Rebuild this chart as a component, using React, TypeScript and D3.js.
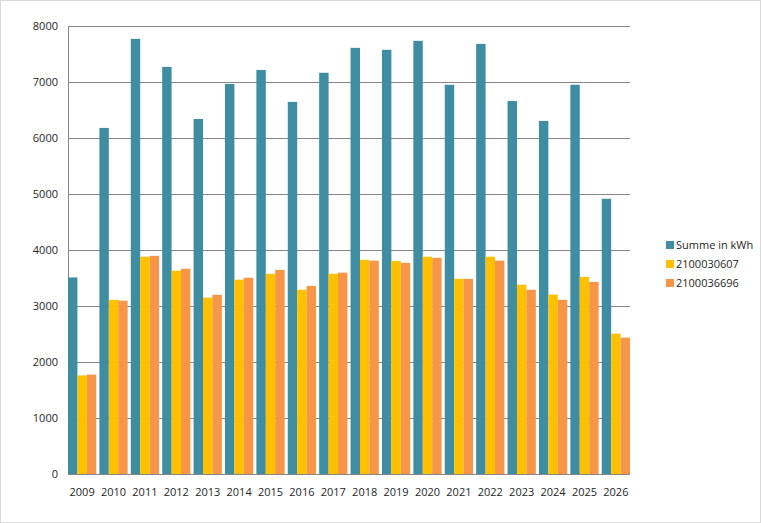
import React, { useEffect, useRef } from 'react';
import * as d3 from 'd3';

const years = ['2009', '2010', '2011', '2012', '2013', '2014', '2015', '2016', '2017', '2018', '2019', '2020', '2021', '2022', '2023', '2024', '2025', '2026'];
const summe = [3510, 6180, 7770, 7270, 6340, 6965, 7215, 6645, 7165, 7610, 7575, 7735, 6950, 7680, 6660, 6305, 6950, 4915];
const meterA = [1760, 3110, 3880, 3630, 3150, 3470, 3575, 3290, 3575, 3825, 3805, 3880, 3485, 3880, 3380, 3205, 3520, 2505];
const meterB = [1775, 3095, 3895, 3665, 3200, 3505, 3645, 3360, 3595, 3810, 3770, 3860, 3485, 3810, 3290, 3110, 3430, 2435];
const seriesNames = ['Summe in kWh', '2100030607', '2100036696'];
const colors = ['#3E8DA3', '#FFC000', '#F79646'];
const yTicks = [0, 1000, 2000, 3000, 4000, 5000, 6000, 7000, 8000];

const W = 761;
const H = 523;

const App: React.FC = () => {
    const svgRef = useRef<SVGSVGElement | null>(null);

    useEffect(() => {
        const svg = d3.select(svgRef.current);
        svg.selectAll('*').remove();

        const margin = { top: 26, left: 68, right: 131, bottom: 49 };
        const innerW = W - margin.left - margin.right;
        const innerH = H - margin.top - margin.bottom;
        const font = "'Segoe UI', 'Open Sans', sans-serif";

        svg.append('rect')
            .attr('x', 0.5).attr('y', 0.5)
            .attr('width', W - 1).attr('height', H - 1)
            .attr('fill', '#fff')
            .attr('stroke', '#D9D9D9');

        const x = d3.scaleBand().domain(years).range([0, innerW]).paddingInner(0.1).paddingOuter(0);
        const xSub = d3.scaleBand().domain(seriesNames).range([0, x.bandwidth()]);
        const y = d3.scaleLinear().domain([0, 8000]).range([innerH, 0]);

        const g = svg.append('g').attr('transform', `translate(${margin.left},${margin.top})`);

        // gridlines
        g.selectAll('line.grid')
            .data(yTicks)
            .enter().append('line')
            .attr('x1', 0).attr('x2', innerW)
            .attr('y1', (d) => Math.round(y(d)) + 0.5)
            .attr('y2', (d) => Math.round(y(d)) + 0.5)
            .attr('stroke', '#868686')
            .attr('stroke-width', 1);

        g.append('line')
            .attr('x1', 0.5).attr('x2', 0.5)
            .attr('y1', 0).attr('y2', innerH)
            .attr('stroke', '#868686');

        const allSeries = [summe, meterA, meterB];
        allSeries.forEach((vals, si) => {
            g.selectAll(`rect.s${si}`)
                .data(vals)
                .enter().append('rect')
                .attr('x', (_d, i) => (x(years[i]) as number) + (xSub(seriesNames[si]) as number))
                .attr('width', xSub.bandwidth())
                .attr('y', (d) => y(d))
                .attr('height', (d) => innerH - y(d))
                .attr('fill', colors[si]);
        });

        // y tick labels
        g.selectAll('text.ytick')
            .data(yTicks)
            .enter().append('text')
            .attr('x', -10)
            .attr('y', (d) => y(d))
            .attr('dy', '0.35em')
            .attr('text-anchor', 'end')
            .attr('font-family', font)
            .attr('font-size', 11)
            .attr('fill', '#262626')
            .text((d) => d);

        // x tick labels
        g.selectAll('text.xtick')
            .data(years)
            .enter().append('text')
            .attr('x', (d) => (x(d) as number) + x.bandwidth() / 2)
            .attr('y', innerH + 18)
            .attr('dy', '0.35em')
            .attr('text-anchor', 'middle')
            .attr('font-family', font)
            .attr('font-size', 11)
            .attr('fill', '#262626')
            .text((d) => d);

        // legend
        const legend = svg.append('g').attr('transform', 'translate(666,245)');
        seriesNames.forEach((name, i) => {
            const row = legend.append('g').attr('transform', `translate(0,${i * 19})`);
            row.append('rect')
                .attr('x', 0).attr('y', -4)
                .attr('width', 8).attr('height', 8)
                .attr('fill', colors[i]);
            row.append('text')
                .attr('x', 10)
                .attr('y', 0)
                .attr('dy', '0.35em')
                .attr('font-family', font)
                .attr('font-size', 11)
                .attr('fill', '#262626')
                .text(name);
        });
    }, []);

    return (
        <div style={{ position: 'absolute', left: 0, top: 0 }}>
            <svg ref={svgRef} width={W} height={H} style={{ display: 'block' }} />
        </div>
    );
};

export default App;
